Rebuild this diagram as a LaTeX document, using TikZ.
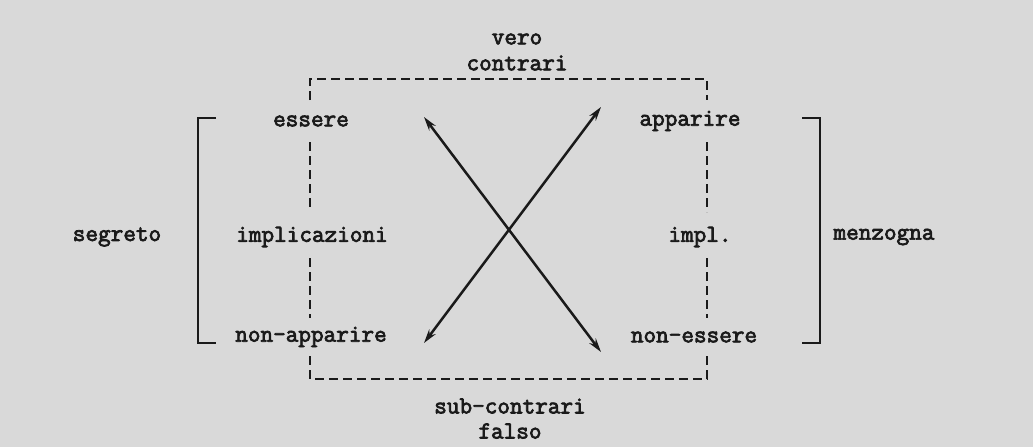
\documentclass[tikz,border=0pt]{standalone}
\usepackage{fontspec}
\newfontfamily\twfont{Latin Modern Mono}[FakeBold=3]
\usetikzlibrary{arrows.meta}
\definecolor{paper}{HTML}{D9D9D9}
\definecolor{ink}{HTML}{1A1A1A}
\begin{document}
\begin{tikzpicture}[x=1pt,y=-1pt,
  lbl/.style={font=\fontsize{24.5}{28}\selectfont\twfont, text=ink, inner sep=1pt},
  dline/.style={draw=ink, line width=2.6pt, dash pattern=on 9pt off 5pt},
  brk/.style={draw=ink, line width=2.8pt},
  arr/.style={draw=ink, line width=2.5pt, {Stealth[length=14pt,width=8pt]}-{Stealth[length=14pt,width=8pt]}}]
\fill[paper] (0,0) rectangle (1033,447);
\useasboundingbox (0,0) rectangle (1033,447);
% nodes
\node[lbl] (ess) at (311,121) {essere};
\node[lbl] (app) at (690,121) {apparire};
\node[lbl] (imp) at (312,237) {implicazioni};
\node[lbl] (impl) at (700,237) {impl.};
\node[lbl] (nap) at (311,337) {non-apparire};
\node[lbl] (nes) at (694,337) {non-essere};
\node[lbl] (seg) at (117,237) {segreto};
\node[lbl] (men) at (884,237) {menzogna};
\node[lbl] (vero) at (517,39) {vero};
\node[lbl] (con) at (517,63) {contrari};
\node[lbl] (sub) at (510,406) {sub-contrari};
\node[lbl] (fal) at (510,431) {falso};
% dashed frame
\coordinate (tl) at (310,79);
\coordinate (tr) at (707,79);
\coordinate (bl) at (310,379);
\coordinate (br) at (707,379);
\draw[dline] (310,100) -- (tl) -- (tr) -- (707,100);
\draw[dline] (310,142) -- (310,210);
\draw[dline] (310,258) -- (310,318);
\draw[dline] (310,356) -- (bl) -- (br) -- (707,356);
\draw[dline] (707,142) -- (707,212);
\draw[dline] (707,258) -- (707,318);
% brackets
\draw[brk] (216,118) -- (198,118) -- (198,343) -- (216,343);
\draw[brk] (802,118) -- (820,118) -- (820,343) -- (802,343);
% arrows
\coordinate (a1) at (424,117);
\coordinate (a2) at (601,352);
\coordinate (b1) at (601,107);
\coordinate (b2) at (424,343);
\draw[arr] (a1) -- (a2);
\draw[arr] (b1) -- (b2);
\end{tikzpicture}
\end{document}
